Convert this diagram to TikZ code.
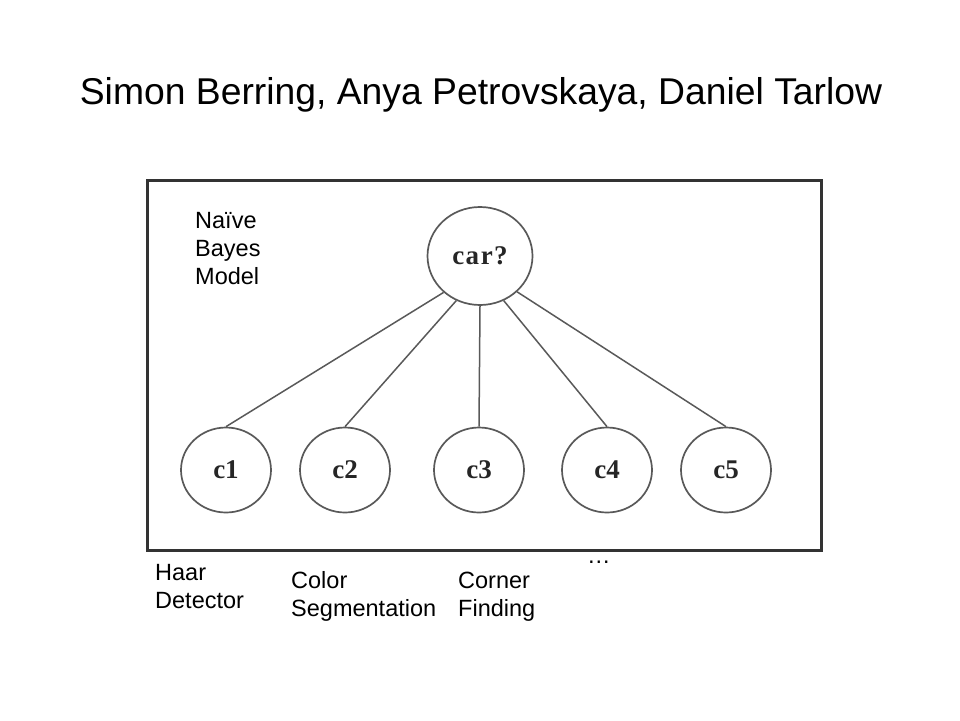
\documentclass[tikz,border=0pt]{standalone}
\usepackage{fontspec}
\setmainfont{Liberation Sans}
\newfontfamily\serifb{Liberation Serif}
\usetikzlibrary{shapes.geometric}
\begin{document}
\begin{tikzpicture}[x=1pt,y=-1pt,
  bnode/.style={ellipse,draw=black!65,line width=1.7pt,inner sep=0pt,
    font=\serifb\bfseries\fontsize{27}{30}\selectfont,text=black!85},
  cnode/.style={bnode,minimum width=90pt,minimum height=85pt},
  link/.style={draw=black!65,line width=1.5pt},
  lab/.style={font=\fontsize{23.5}{28}\selectfont,align=left,inner sep=0pt,anchor=base west},
  frame/.style={draw=black!80,line width=3pt}]
\useasboundingbox (0,0) rectangle (960,720);
\node[font=\fontsize{37.3}{44}\selectfont,inner sep=0pt,anchor=base] (title) at (481,104) {Simon Berring, Anya Petrovskaya, Daniel Tarlow};
\draw[frame] (147,180) rectangle (821,550);
\node[bnode,minimum width=105pt,minimum height=98pt] (car) at (480,256) {c\kern1.5pt a\kern1.5pt r\kern1.5pt ?};
\node[cnode] (c1) at (226,470) {c1};
\node[cnode] (c2) at (345,470) {c2};
\node[cnode] (c3) at (479,470) {c3};
\node[cnode] (c4) at (607,470) {c4};
\node[cnode] (c5) at (726,470) {c5};
\draw[link] (car.225) -- (c1.north);
\draw[link] (car.242) -- (c2.north);
\draw[link] (car.south) -- (c3.north);
\draw[link] (car.298) -- (c4.north);
\draw[link] (car.316) -- (c5.north);
\node[lab] (nbm) at (195,284) {Naïve\\Bayes\\Model};
\node[lab] (haar) at (155,608) {Haar\\Detector};
\node[lab] (color) at (291,616) {Color\\Segmentation};
\node[lab] (corner) at (458,616) {Corner\\Finding};
\node[lab] (dots) at (587,563) {\dots};
\end{tikzpicture}
\end{document}
